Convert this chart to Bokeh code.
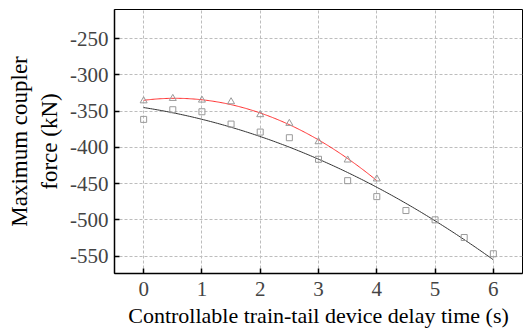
import numpy as np
from bokeh.plotting import figure
from bokeh.models import Range1d, FixedTicker, CustomJSTickFormatter
from bokeh.embed import file_html
from bokeh.resources import INLINE

# Delay time of the controllable train-tail device (s)
delay_a = [0, 0.5, 1, 1.5, 2, 2.5, 3, 3.5, 4]
force_a = [-335.9, -332.6, -334.9, -337.2, -355.0, -367.0, -392.3, -417.5, -443.6]

delay_b = [0, 0.5, 1, 1.5, 2, 2.5, 3, 3.5, 4, 4.5, 5, 5.5, 6]
force_b = [-361.5, -348.2, -351.0, -368.0, -379.0, -386.8, -416.5, -446.0,
           -468.0, -487.2, -500.0, -524.4, -546.8]

x_ticks = [0, 1, 2, 3, 4, 5, 6]
y_ticks = [-550, -500, -450, -400, -350, -300, -250]

LABEL_FONT = "Liberation Serif"
TICK_FONT = "serif"

p = figure(width=524, height=330, output_backend="svg", toolbar_location=None,
           x_range=Range1d(-0.5, 6.5), y_range=Range1d(-574, -210),
           min_border_left=114, min_border_right=2, min_border_top=9,
           min_border_bottom=56)

p.background_fill_color = "white"
p.border_fill_color = "white"
p.outline_line_color = "black"
p.outline_line_width = 1

# Quadratic least-squares trend lines through each set of simulated points
ca = np.polyfit(delay_a, force_a, 2)
cb = np.polyfit(delay_b, force_b, 2)
xa = np.linspace(min(delay_a), max(delay_a), 200)
xb = np.linspace(min(delay_b), max(delay_b), 200)
p.line(xb, np.polyval(cb, xb), line_color="#333333", line_width=1)
p.line(xa, np.polyval(ca, xa), line_color="#ff3030", line_width=1)

p.scatter(delay_b, force_b, marker="square", size=6, fill_color=None,
          line_color="#9a9a9a", line_width=1)
p.scatter(delay_a, force_a, marker="triangle", size=7, fill_color=None,
          line_color="#9a9a9a", line_width=1)

# plain ASCII hyphen for negative tick values
plain = CustomJSTickFormatter(code="return tick.toString();")

p.xaxis.ticker = FixedTicker(ticks=x_ticks)
p.yaxis.ticker = FixedTicker(ticks=y_ticks)
p.xaxis.formatter = plain
p.yaxis.formatter = plain

p.xaxis.axis_line_color = "black"
p.yaxis.axis_line_color = "black"
p.xaxis.axis_line_width = 1.5
p.yaxis.axis_line_width = 1.5
p.xaxis.major_tick_in = 5
p.yaxis.major_tick_in = 5
p.xaxis.major_tick_out = 0
p.yaxis.major_tick_out = 0
p.xaxis.major_tick_line_width = 1.5
p.yaxis.major_tick_line_width = 1.5
p.xaxis.minor_tick_line_color = None
p.yaxis.minor_tick_line_color = None

p.xaxis.major_label_text_font = TICK_FONT
p.yaxis.major_label_text_font = TICK_FONT
p.xaxis.major_label_text_font_size = "21px"
p.yaxis.major_label_text_font_size = "21px"
p.xaxis.major_label_standoff = 8
p.yaxis.major_label_standoff = 6

p.xaxis.axis_label = "Controllable train-tail device delay time (s)"
p.yaxis.axis_label = "Maximum coupler\nforce (kN)"
p.xaxis.axis_label_text_font = LABEL_FONT
p.yaxis.axis_label_text_font = LABEL_FONT
p.xaxis.axis_label_text_font_style = "normal"
p.yaxis.axis_label_text_font_style = "normal"
p.xaxis.axis_label_text_font_size = "22px"
p.yaxis.axis_label_text_font_size = "23px"
p.xaxis.axis_label_text_color = "black"
p.yaxis.axis_label_text_color = "black"
p.xaxis.axis_label_standoff = 4
p.yaxis.axis_label_standoff = 5

for g in (p.xgrid, p.ygrid):
    g.grid_line_color = "#bdbdbd"
    g.grid_line_dash = "3 2"
    g.grid_line_width = 1

open("out.html", "w").write(file_html(p, INLINE))
